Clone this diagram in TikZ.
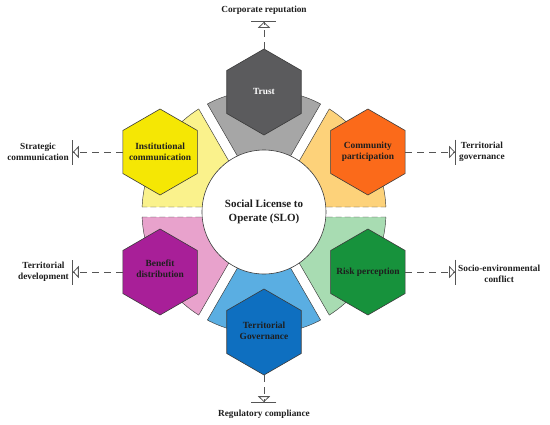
\documentclass[tikz,border=0pt]{standalone}
\usepackage{fontspec}
\setmainfont{Liberation Serif}
\usetikzlibrary{shapes.geometric,arrows.meta}
\definecolor{linec}{HTML}{3A3A3A}
\definecolor{connc}{HTML}{555555}
\definecolor{lgray}{HTML}{A6A6A6}
\definecolor{lorange}{HTML}{FDD27A}
\definecolor{lgreen}{HTML}{A8DCB2}
\definecolor{lblue}{HTML}{5AAEE2}
\definecolor{lpink}{HTML}{E8A2CC}
\definecolor{lyellow}{HTML}{FAF28C}
\definecolor{hgray}{HTML}{5B5B5D}
\definecolor{horange}{HTML}{FB6A1A}
\definecolor{hgreen}{HTML}{17923C}
\definecolor{hblue}{HTML}{0E6FC0}
\definecolor{hpurple}{HTML}{A81F98}
\definecolor{hyellow}{HTML}{F5E704}
\definecolor{textc}{HTML}{1E1E1E}
\begin{document}
\begin{tikzpicture}[x=1pt,y=1pt,
  hexa/.style={regular polygon, regular polygon sides=6, shape border rotate=30,
    minimum size=86pt, inner sep=0pt, outer sep=0pt, draw=linec, line width=0.6pt},
  hexlab/.style={align=center, inner sep=0pt, text=textc, font=\bfseries\fontsize{9.4}{11}\selectfont},
  edge/.style={draw=linec, line width=0.45pt},
  gapdash/.style={dash pattern=on 6pt off 3pt},
  conn/.style={draw=connc, line width=0.8pt, dash pattern=on 7pt off 5pt,
    -{Triangle[open,length=6pt,width=12pt,sep=0pt,line width=0.8pt]Bar[width=25pt,line width=0.8pt]}},
  lab/.style={align=center, inner sep=0pt, text=textc, font=\bfseries\fontsize{9.3}{11}\selectfont}]
\useasboundingbox (-264,-212) rectangle (286,212);
% sectors
\foreach \a/\col in {0/lorange,60/lgray,120/lyellow,180/lpink,240/lblue,300/lgreen}{
  \fill[\col] (\a+30:10) -- (\a+2.35:122) arc[start angle=\a+2.35, end angle=\a+57.65, radius=122] -- cycle;
  \draw[edge] (\a+2.35:122) arc[start angle=\a+2.35, end angle=\a+57.65, radius=122];
}
\foreach \a in {60,120,240,300}{
  \draw[edge] (\a+30:10) -- (\a+2.35:122);
  \draw[edge] (\a-30:10) -- (\a-2.35:122);
}
\foreach \a in {0,180}{
  \draw[edge,gapdash] (\a+30:10) -- (\a+2.35:122);
  \draw[edge,gapdash] (\a-30:10) -- (\a-2.35:122);
}
% center
\node[circle, draw=linec, line width=0.6pt, fill=white, minimum size=124pt, inner sep=0pt,
  align=center, text=textc, font=\bfseries\fontsize{11}{13.5}\selectfont] (slo) at (0,0)
  {Social License to\\Operate (SLO)};
% hexagons
\node[hexa, fill=hgray] (trust) at (90:120) {};
\node[hexa, fill=horange] (comm) at (30:120) {};
\node[hexa, fill=hgreen] (risk) at (-30:120) {};
\node[hexa, fill=hblue] (tg) at (-90:120) {};
\node[hexa, fill=hpurple] (ben) at (210:120) {};
\node[hexa, fill=hyellow] (inst) at (150:120) {};
\node[hexlab, text=white] (trustlab) at ([yshift=1pt]trust.center) {Trust};
\node[hexlab] (commlab) at (comm.center) {Community\\participation};
\node[hexlab] (risklab) at ([yshift=0pt]risk.center) {Risk perception};
\node[hexlab] (tglab) at ([yshift=1.5pt]tg.center) {Territorial\\Governance};
\node[hexlab] (benlab) at ([yshift=3pt]ben.center) {Benefit\\distribution};
\node[hexlab] (instlab) at (inst.center) {Institutional\\communication};
% connector ends
\coordinate (trustend) at (0,191);
\coordinate (commend) at (192,60);
\coordinate (riskend) at (192,-60);
\coordinate (tgend) at (0,-191);
\coordinate (benend) at (-192,-60);
\coordinate (instend) at (-192,60);
\draw[conn] (trust.north) -- (trustend);
\draw[conn] (comm.east) -- (commend);
\draw[conn] (risk.east) -- (riskend);
\draw[conn] (tg.south) -- (tgend);
\draw[conn] (ben.west) -- (benend);
\draw[conn] (inst.west) -- (instend);
% outer labels
\node[lab] (corp) at (0,202) {Corporate reputation};
\node[lab, anchor=west] (tgov) at (195,60) {Territorial\\governance};
\node[lab, anchor=west] (socio) at (194,-62) {Socio-environmental\\conflict};
\node[lab] (reg) at (0,-202) {Regulatory compliance};
\node[lab, anchor=east] (tdev) at (-195,-60) {Territorial\\development};
\node[lab, anchor=east] (strat) at (-195,60) {Strategic\\communication};
\end{tikzpicture}
\end{document}
